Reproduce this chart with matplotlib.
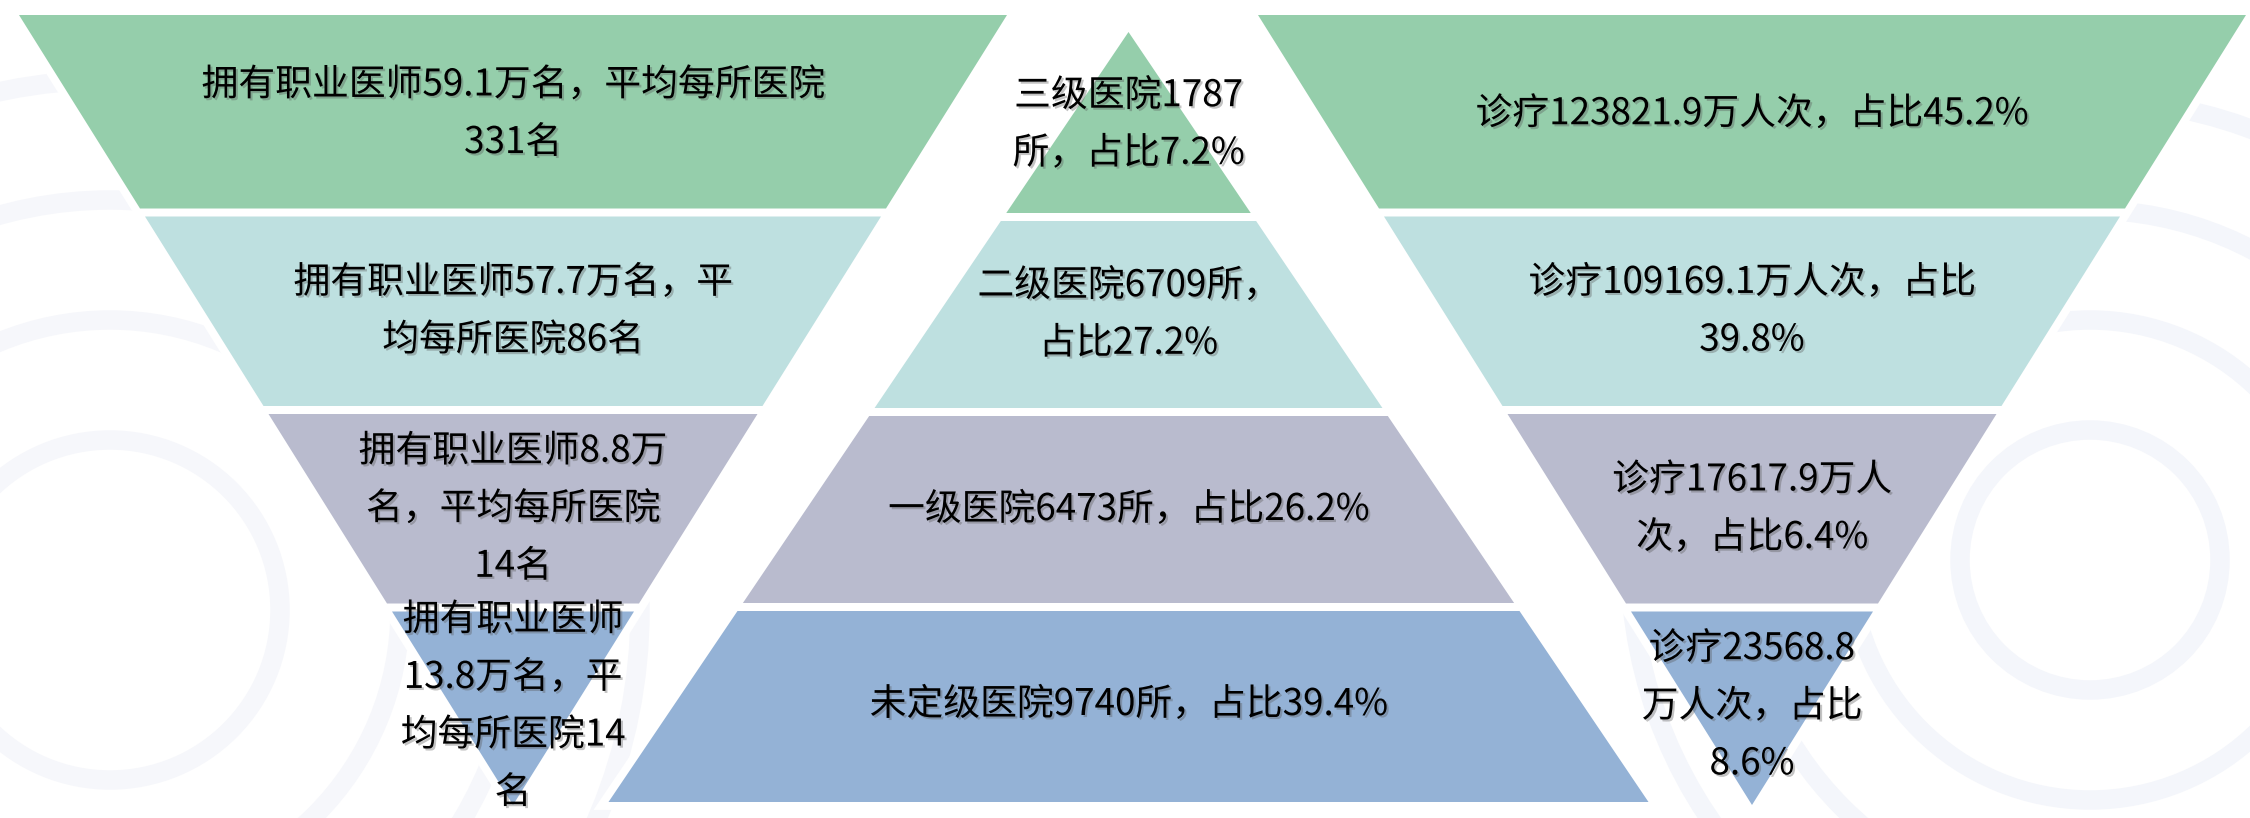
import matplotlib
matplotlib.use("Agg")
import matplotlib.pyplot as plt
import matplotlib.patheffects as pe
from matplotlib.patches import Polygon, Circle
import numpy as np

plt.rcParams['font.family'] = ['Noto Sans CJK SC', 'DejaVu Sans']

# ---- data ----
levels = ["三级医院", "二级医院", "一级医院", "未定级医院"]
hospitals = [1787, 6709, 6473, 9740]
hospital_share = [7.2, 27.2, 26.2, 39.4]
doctors_wan = [59.1, 57.7, 8.8, 13.8]
doctors_per_hospital = [331, 86, 14, 14]
visits_wan = [123821.9, 109169.1, 17617.9, 23568.8]
visits_share = [45.2, 39.8, 6.4, 8.6]
colors = ["#95CEAB", "#BEE0E0", "#B9BBCE", "#94B2D6"]

left_labels = [
    f"拥有职业医师{doctors_wan[0]}万名，平均每所医院\n{doctors_per_hospital[0]}名",
    f"拥有职业医师{doctors_wan[1]}万名，平\n均每所医院{doctors_per_hospital[1]}名",
    f"拥有职业医师{doctors_wan[2]}万\n名，平均每所医院\n{doctors_per_hospital[2]}名",
    f"拥有职业医师\n{doctors_wan[3]}万名，平\n均每所医院{doctors_per_hospital[3]}\n名",
]
mid_labels = [
    f"{levels[0]}{hospitals[0]}\n所，占比{hospital_share[0]}%",
    f"{levels[1]}{hospitals[1]}所，\n占比{hospital_share[1]}%",
    f"{levels[2]}{hospitals[2]}所，占比{hospital_share[2]}%",
    f"{levels[3]}{hospitals[3]}所，占比{hospital_share[3]}%",
]
right_labels = [
    f"诊疗{visits_wan[0]}万人次，占比{visits_share[0]}%",
    f"诊疗{visits_wan[1]}万人次，占比\n{visits_share[1]}%",
    f"诊疗{visits_wan[2]}万人\n次，占比{visits_share[2]}%",
    f"诊疗{visits_wan[3]}\n万人次，占比\n{visits_share[3]}%",
]

W, H = 2250, 818
fig = plt.figure(figsize=(W / 100, H / 100), dpi=100)
ax = fig.add_axes([0, 0, 1, 1])
ax.set_xlim(0, W)
ax.set_ylim(H, 0)
ax.axis('off')

# very faint background rings
for cx, cy, radii, col in [(110, 610, [170, 290, 410, 530], '#f6f7fb'),
                           (2090, 560, [130, 240, 350, 460], '#f4f6fb')]:
    for r in radii:
        ax.add_patch(Circle((cx, cy), r, fill=False, ec=col, lw=14, zorder=0))

GAP = 8


def half_width(y, y_wide, y_tip, hw):
    return hw * (y - y_tip) / (y_wide - y_tip)


def draw_triangle(cx, y_wide, y_tip, hw, edges, labels):
    outline = Polygon([(cx - hw, y_wide), (cx + hw, y_wide), (cx, y_tip)],
                      closed=True, fc='white', ec='white', lw=11.5,
                      joinstyle='miter', zorder=1)
    outline.set_path_effects([
        pe.SimplePatchShadow(offset=(3, -3), shadow_rgbFace='#9a9aa6', alpha=0.25),
        pe.SimplePatchShadow(offset=(1.5, -1.5), shadow_rgbFace='#9a9aa6', alpha=0.3),
        pe.Normal()])
    ax.add_patch(outline)
    lo, hi = min(y_wide, y_tip), max(y_wide, y_tip)
    for i, lab in enumerate(labels):
        ya, yb = sorted((edges[i], edges[i + 1]))
        ya_c, yb_c = max(ya, lo), min(yb, hi)
        ya_g = ya_c if ya_c == lo else ya_c + GAP / 2
        yb_g = yb_c if yb_c == hi else yb_c - GAP / 2
        wa = half_width(ya_g, y_wide, y_tip, hw)
        wb = half_width(yb_g, y_wide, y_tip, hw)
        ax.add_patch(Polygon([(cx - wa, ya_g), (cx + wa, ya_g), (cx + wb, yb_g), (cx - wb, yb_g)],
                             closed=True, fc=colors[i], ec='none', zorder=2))
        ax.text(cx, (ya_c + yb_c) / 2, lab, ha='center', va='center', fontsize=26.5,
                color='black', linespacing=1.62, zorder=5,
                path_effects=[pe.withSimplePatchShadow(offset=(1.5, -1.5),
                                                       shadow_rgbFace='#555555', alpha=0.35)])


# band edges, listed top to bottom
inv_edges = np.linspace(15, 805, 5)
mid_edges = (802 - 195 * np.arange(5))[::-1]

draw_triangle(513, 15, 805, 494, inv_edges, left_labels)
draw_triangle(1128.5, 802, 32, 520, mid_edges, mid_labels)
draw_triangle(1752, 15, 805, 494, inv_edges, right_labels)

fig.savefig("out.png", dpi=100)
